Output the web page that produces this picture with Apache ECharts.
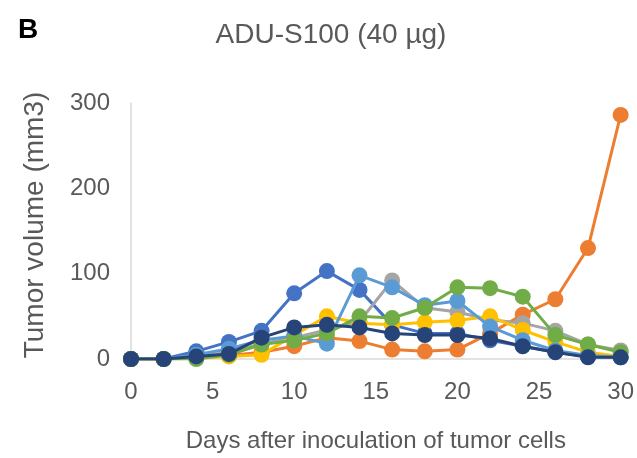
<!DOCTYPE html>
<html><head><meta charset="utf-8">
<script src="https://cdn.jsdelivr.net/npm/echarts@6/dist/echarts.min.js"></script>
<style>html,body{margin:0;padding:0;background:#fff}#c{width:637px;height:458px}</style>
</head><body><div id="c"></div>
<script>
const days = [0,2,4,6,8,10,12,14,16,18,20,22,24,26,28,30];
const mouseBlue      = [0,0,9,20,33,77,103,81,40,30,30,22,15,8,3,2];
const mouseOrange    = [0,0,2,4,8,15,25,21,11,9,11,30,52,70,130,286];
const mouseGray      = [0,0,3,8,18,25,34,44,92,60,55,46,42,33,17,10];
const mouseYellow    = [0,0,1,3,5,28,50,42,40,43,45,50,34,20,8,3];
const mouseLightBlue = [0,0,5,12,22,27,18,98,84,63,68,38,22,10,4,2];
const mouseGreen     = [0,0,0,5,17,22,30,50,48,60,84,83,73,28,17,8];
const mouseNavy      = [0,0,3,6,25,37,40,37,30,28,28,24,15,8,2,2];
const seriesNames = ['Mouse 1','Mouse 2','Mouse 3','Mouse 4','Mouse 5','Mouse 6','Mouse 7'];
const seriesData = [mouseBlue, mouseOrange, mouseGray, mouseYellow, mouseLightBlue, mouseGreen, mouseNavy];
const colors = ['#4472C4','#ED7D31','#A5A5A5','#FFC000','#5B9BD5','#70AD47','#264478'];
const xTicks = [0,5,10,15,20,25,30];
const yTicks = [0,100,200,300];

const chart = echarts.init(document.getElementById('c'), null, {renderer:'canvas'});
const font = 'Liberation Sans, Arial, sans-serif';
chart.setOption({
  animation:false,
  title:[
    {text:'B', left:13, top:11, textStyle:{fontFamily:font, fontSize:28, fontWeight:'bold', color:'#000'}},
    {text:'ADU-S100 (40 µg)', left:326, top:16, textAlign:'center', textStyle:{fontFamily:font, fontSize:28, fontWeight:'normal', color:'#595959'}}
  ],
  grid:{left:131, right:15, top:103, bottom:88, containLabel:false},
  xAxis:{type:'value', min:xTicks[0], max:xTicks[xTicks.length-1], interval:5,
    name:'Days after inoculation of tumor cells', nameLocation:'middle', nameGap:70,
    nameTextStyle:{fontFamily:font, fontSize:24, color:'#595959'},
    axisLine:{show:true, lineStyle:{color:'#D9D9D9', width:1.5}},
    axisTick:{show:false}, splitLine:{show:false},
    axisLabel:{fontFamily:font, fontSize:24, color:'#595959', margin:21}},
  yAxis:{type:'value', min:yTicks[0], max:yTicks[yTicks.length-1], interval:100,
    name:'Tumor volume (mm3)', nameLocation:'middle', nameGap:82,
    nameTextStyle:{fontFamily:font, fontSize:28, color:'#595959', padding:[0,0,0,12]},
    axisLine:{show:true, lineStyle:{color:'#D9D9D9', width:1.5}},
    axisTick:{show:false}, splitLine:{show:false},
    axisLabel:{fontFamily:font, fontSize:24, color:'#595959', margin:21}},
  series: seriesData.map((d,i)=>({
    name:seriesNames[i], type:'line', data:days.map((x,j)=>[x,d[j]]),
    symbol:'circle', symbolSize:16, showSymbol:true,
    lineStyle:{width:3, color:colors[i]}, itemStyle:{color:colors[i]}, z:2+i
  }))
});
</script></body></html>
